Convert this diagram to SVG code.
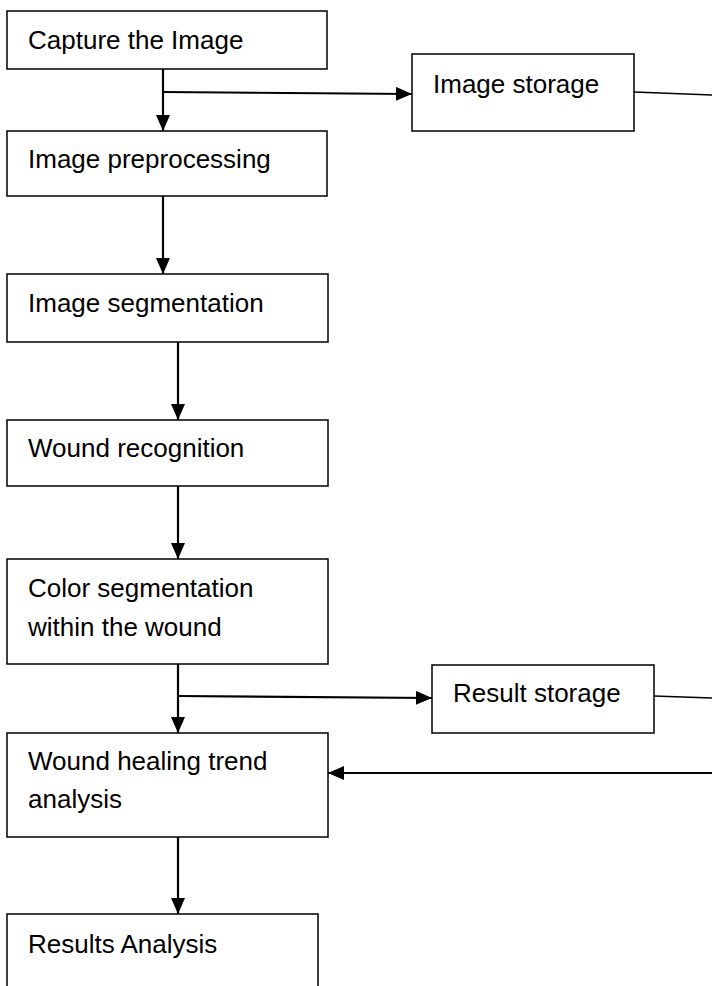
<svg xmlns="http://www.w3.org/2000/svg" width="712" height="986" viewBox="0 0 712 986">
  <style>
    .box { fill: #ffffff; stroke: #000000; stroke-width: 1.5; }
    .lbl { font-family: "Liberation Sans", Arial, sans-serif; font-size: 26px; fill: #000000; }
    .arr { fill: none; stroke: #000000; stroke-width: 2.2; }
    .thin { fill: none; stroke: #000000; stroke-width: 1.4; }
  </style>
  <defs>
    <marker id="ah" markerUnits="userSpaceOnUse" markerWidth="16" markerHeight="14" refX="16" refY="7" orient="auto">
      <path d="M0,0 L16,7 L0,14 z" fill="#000000"/>
    </marker>
  </defs>
  <rect width="712" height="986" fill="#ffffff"/>

  <g id="connectors">
    <line class="arr" x1="163" y1="69" x2="163" y2="131" marker-end="url(#ah)"/>
    <line class="arr" x1="163" y1="92" x2="412" y2="94" marker-end="url(#ah)"/>
    <line class="thin" x1="634" y1="92" x2="712" y2="95"/>
    <line class="arr" x1="163" y1="196" x2="163" y2="274" marker-end="url(#ah)"/>
    <line class="arr" x1="178" y1="342" x2="178" y2="420" marker-end="url(#ah)"/>
    <line class="arr" x1="178" y1="486" x2="178" y2="559" marker-end="url(#ah)"/>
    <line class="arr" x1="178" y1="664" x2="178" y2="733" marker-end="url(#ah)"/>
    <line class="arr" x1="178" y1="696" x2="432" y2="698" marker-end="url(#ah)"/>
    <line class="thin" x1="654" y1="696" x2="712" y2="698"/>
    <line class="arr" x1="712" y1="773" x2="328" y2="773" marker-end="url(#ah)"/>
    <line class="arr" x1="178" y1="837" x2="178" y2="914" marker-end="url(#ah)"/>
  </g>

  <g id="capture">
    <rect class="box" x="7" y="11" width="320" height="58"/>
    <text class="lbl" x="28" y="49">Capture the Image</text>
  </g>
  <g id="image-storage">
    <rect class="box" x="412" y="54" width="222" height="77"/>
    <text class="lbl" x="433" y="93">Image storage</text>
  </g>
  <g id="preprocessing">
    <rect class="box" x="7" y="131" width="320" height="65"/>
    <text class="lbl" x="28" y="168">Image preprocessing</text>
  </g>
  <g id="segmentation">
    <rect class="box" x="7" y="274" width="321" height="68"/>
    <text class="lbl" x="28" y="312">Image segmentation</text>
  </g>
  <g id="recognition">
    <rect class="box" x="7" y="420" width="321" height="66"/>
    <text class="lbl" x="28" y="457">Wound recognition</text>
  </g>
  <g id="color-segmentation">
    <rect class="box" x="7" y="559" width="321" height="105"/>
    <text class="lbl" x="28" y="597">Color segmentation</text>
    <text class="lbl" x="28" y="636">within the wound</text>
  </g>
  <g id="result-storage">
    <rect class="box" x="432" y="665" width="222" height="68"/>
    <text class="lbl" x="453" y="702">Result storage</text>
  </g>
  <g id="healing-trend">
    <rect class="box" x="7" y="733" width="321" height="104"/>
    <text class="lbl" x="28" y="770">Wound healing trend</text>
    <text class="lbl" x="28" y="808">analysis</text>
  </g>
  <g id="results-analysis">
    <rect class="box" x="7" y="914" width="311" height="100"/>
    <text class="lbl" x="28" y="953">Results Analysis</text>
  </g>
</svg>
